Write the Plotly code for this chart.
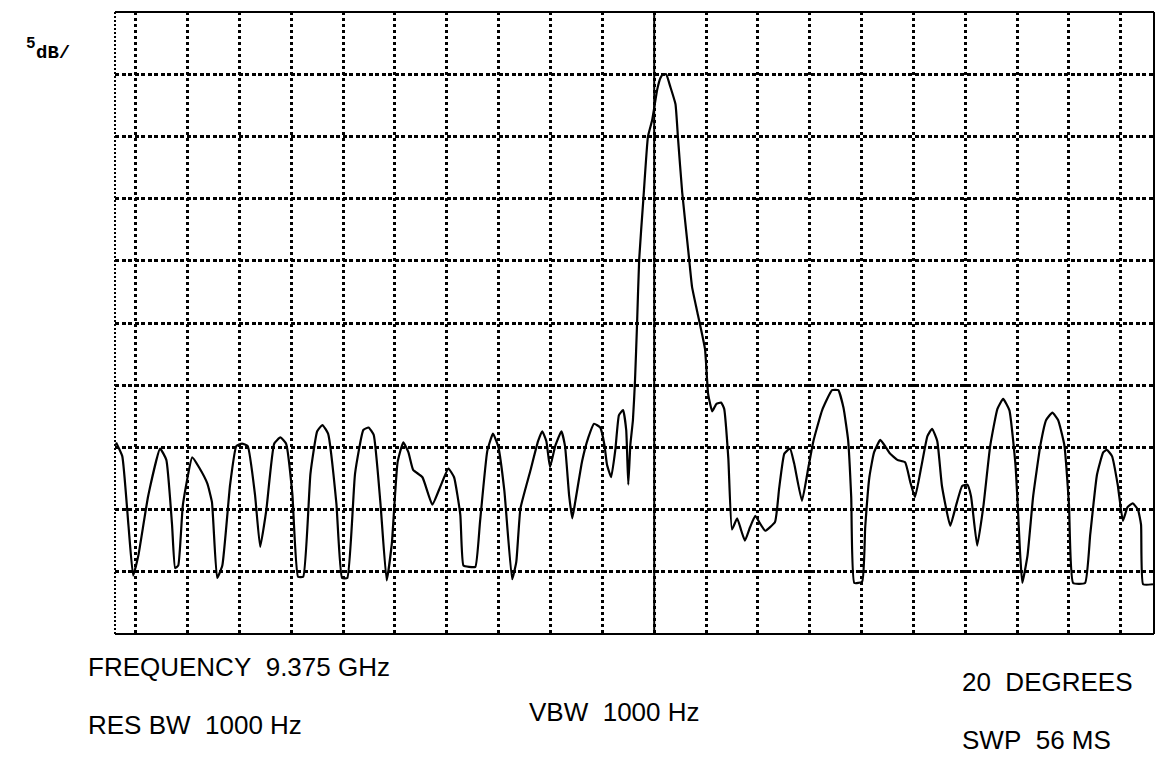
import plotly.graph_objects as go

# Sweep position (horizontal divisions from the centre marker) and trace level
# (dB below the top graticule line, 5 dB per division).
sweep_div = [
    -10.38, -10.26, -10.14, -10.05, -9.95, -9.76, -9.53, -9.41, -9.30, -9.24,
    -9.18, -9.09, -8.91, -8.78, -8.62, -8.53, -8.43, -8.33, -8.18, -8.06,
    -7.95, -7.84, -7.70, -7.60, -7.48, -7.33, -7.21, -7.10, -6.98, -6.87,
    -6.77, -6.63, -6.50, -6.40, -6.29, -6.13, -6.02, -5.92, -5.77, -5.61,
    -5.51, -5.41, -5.28, -5.16, -5.06, -4.95, -4.84, -4.74, -4.65, -4.47,
    -4.28, -4.13, -3.97, -3.86, -3.74, -3.68, -3.57, -3.45, -3.36, -3.22,
    -3.11, -3.01, -2.89, -2.74, -2.66, -2.58, -2.39, -2.24, -2.16, -2.08,
    -2.01, -1.91, -1.79, -1.72, -1.64, -1.58, -1.52, -1.39, -1.27, -1.16,
    -1.04, -0.96, -0.91, -0.83, -0.75, -0.68, -0.60, -0.54, -0.50, -0.46,
    -0.41, -0.37, -0.33, -0.29, -0.21, -0.12, -0.04, 0.06, 0.12, 0.17,
    0.23, 0.31, 0.41, 0.46, 0.54, 0.66, 0.73, 0.83, 0.98, 1.04,
    1.12, 1.20, 1.29, 1.35, 1.43, 1.50, 1.60, 1.68, 1.75, 1.85,
    1.95, 2.04, 2.14, 2.33, 2.41, 2.51, 2.62, 2.70, 2.85, 2.97,
    3.07, 3.24, 3.43, 3.55, 3.65, 3.74, 3.80, 3.86, 4.01, 4.07,
    4.15, 4.24, 4.36, 4.47, 4.55, 4.69, 4.84, 4.94, 5.03, 5.15,
    5.27, 5.36, 5.46, 5.55, 5.71, 5.82, 5.94, 6.04, 6.11, 6.23,
    6.35, 6.48, 6.62, 6.73, 6.85, 6.97, 7.06, 7.10, 7.20, 7.31,
    7.45, 7.56, 7.68, 7.79, 7.91, 8.00, 8.08, 8.31, 8.41, 8.54,
    8.66, 8.73, 8.83, 8.94, 9.04, 9.13, 9.23, 9.33, 9.39, 9.43,
    9.62,
]
level_db = [
    -34.6, -35.7, -41.3, -45.3, -43.7, -38.9, -35.1, -36.0, -41.2, -44.7,
    -44.5, -39.6, -35.8, -36.6, -37.9, -39.4, -45.5, -44.5, -38.0, -34.9,
    -34.7, -34.9, -38.8, -43.0, -40.0, -34.7, -34.2, -34.7, -38.7, -45.4,
    -45.4, -37.1, -33.7, -33.2, -33.9, -39.5, -45.5, -45.5, -37.1, -33.6,
    -33.4, -34.0, -39.5, -45.7, -42.7, -36.2, -34.6, -35.4, -36.8, -37.4,
    -39.6, -38.2, -36.7, -37.4, -40.4, -44.5, -44.6, -44.6, -41.0, -35.3,
    -33.9, -34.9, -38.5, -45.6, -44.2, -39.9, -36.9, -34.5, -33.7, -34.5,
    -36.6, -34.9, -33.7, -34.9, -38.9, -40.7, -39.3, -36.1, -34.2, -33.1,
    -33.4, -34.8, -36.4, -37.4, -35.2, -32.4, -32.0, -33.6, -38.0, -34.8,
    -32.8, -29.6, -25.0, -19.9, -15.1, -10.0, -8.7, -6.2, -5.3, -5.0,
    -5.0, -6.0, -7.4, -10.2, -14.5, -19.3, -22.1, -24.1, -27.1, -30.7,
    -32.1, -31.5, -31.4, -31.9, -35.9, -41.6, -40.7, -41.7, -42.5, -41.4,
    -40.5, -41.1, -41.7, -41.0, -38.3, -35.5, -35.1, -36.3, -39.3, -36.7,
    -34.5, -32.0, -30.4, -30.4, -31.8, -34.4, -39.0, -45.9, -45.8, -41.4,
    -37.4, -35.4, -34.4, -35.0, -35.5, -36.0, -36.2, -37.8, -39.0, -36.6,
    -34.1, -33.5, -34.5, -38.1, -41.3, -39.7, -38.1, -38.0, -38.9, -42.9,
    -39.7, -34.9, -31.9, -31.1, -32.0, -36.5, -43.7, -45.9, -43.7, -38.9,
    -34.8, -32.8, -32.2, -32.8, -34.8, -39.6, -45.9, -45.9, -42.0, -37.2,
    -35.4, -35.2, -35.7, -38.0, -40.9, -39.8, -39.5, -40.0, -41.2, -46.0,
    -46.0,
]

# Graticule extents
x_range = [-10.40, 9.64]
y_range = [-50, 0]
marker_div = 0

scale_text = "5"
scale_unit = "dB/"
readouts = [
    ("FREQUENCY\u00a0\u00a09.375 GHz", 86, 667),
    ("RES BW\u00a0\u00a01000 Hz", 86, 725),
    ("VBW\u00a0\u00a01000 Hz", 527, 712),
    ("20\u00a0\u00a0DEGREES", 960, 682),
    ("SWP\u00a0\u00a056 MS", 960, 740),
]

W, H = 1165, 758
L, R, T, B = 115, 11, 12, 124
pw, ph = W - L - R, H - T - B


def px_to_paper(px, py):
    return (px - L) / pw, (H - B - py) / ph


fig = go.Figure()
fig.add_trace(go.Scatter(
    x=sweep_div, y=level_db, mode="lines",
    line=dict(color="black", width=2.2, shape="spline", smoothing=0.4),
    hoverinfo="skip", showlegend=False,
))

# centre frequency marker
fig.add_shape(type="line", xref="x", yref="paper",
              x0=marker_div, x1=marker_div, y0=0, y1=1,
              line=dict(color="black", width=2))

# graticule frame
fig.add_shape(type="line", xref="paper", yref="paper", x0=0, x1=0, y0=0, y1=1,
              line=dict(color="black", width=2, dash="2px,2px"))
for x0, y0, x1, y1 in [(0, 1, 1, 1), (1, 0, 1, 1), (0, 0, 1, 0)]:
    fig.add_shape(type="line", xref="paper", yref="paper",
                  x0=x0, y0=y0, x1=x1, y1=y1,
                  line=dict(color="black", width=2))

for text, px, py in readouts:
    ax, ay = px_to_paper(px, py)
    fig.add_annotation(text=text, x=ax, y=ay, xref="paper", yref="paper",
                       xanchor="left", yanchor="middle", showarrow=False,
                       font=dict(family="Liberation Sans, Arial", size=26, color="black"))

sx, sy = px_to_paper(24, 44)
fig.add_annotation(text="<b>" + scale_text + "</b>", x=sx, y=sy, xref="paper", yref="paper",
                   xanchor="left", yanchor="middle", showarrow=False,
                   font=dict(family="Liberation Mono, Courier New", size=16, color="black"))
ux, uy = px_to_paper(34, 53)
fig.add_annotation(text="<b>" + scale_unit + "</b>", x=ux, y=uy, xref="paper", yref="paper",
                   xanchor="left", yanchor="middle", showarrow=False,
                   font=dict(family="Liberation Mono, Courier New", size=19, color="black"))

fig.update_xaxes(range=x_range, tick0=0, dtick=1, showticklabels=False, ticks="",
                 showgrid=True, gridcolor="black", gridwidth=2.5, griddash="2.5px,3.5px",
                 zeroline=False, showline=False, fixedrange=True)
fig.update_yaxes(range=y_range, tick0=0, dtick=5, showticklabels=False, ticks="",
                 showgrid=True, gridcolor="black", gridwidth=2.5, griddash="4px,2.5px",
                 zeroline=False, showline=False, fixedrange=True)

fig.update_layout(
    width=W, height=H,
    margin=dict(l=L, r=R, t=T, b=B, autoexpand=False),
    paper_bgcolor="white", plot_bgcolor="white",
    showlegend=False,
)

fig.write_html("out.html", config={"displayModeBar": False})
